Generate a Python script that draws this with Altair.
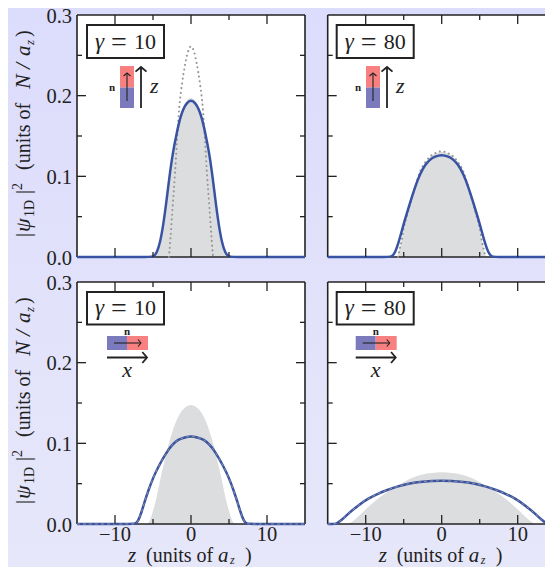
import altair as alt
import pandas as pd

INK = "#222222"
BLUE = "#3953a4"
GREY = "#dcddde"
DOT = "#959595"
RED_M = "#f98080"
BLUE_M = "#7a7abd"
SERIF = "Liberation Serif"

# panel A: gamma 10, n along z
a_fill_z = [-15, -5.4, -4.85, -4.3, -3.9, -3.5, -3.1, -2.7, -2.3, -1.85, -1.4, -1.0, -0.5, 0, 0.5, 1.0, 1.4, 1.85, 2.3, 2.7, 3.1, 3.5, 3.9, 4.3, 4.85, 5.4, 15]
a_fill_v = [0, 0, 0, 0.006, 0.02, 0.042, 0.072, 0.105, 0.133, 0.155, 0.175, 0.187, 0.195, 0.198, 0.195, 0.187, 0.175, 0.155, 0.133, 0.105, 0.072, 0.042, 0.02, 0.006, 0, 0, 0]
a_line_z = [-15, -5.5, -4.96, -4.5, -4.08, -3.64, -3.2, -2.76, -2.32, -1.89, -1.45, -1.0, -0.57, 0, 0.57, 1.0, 1.45, 1.89, 2.32, 2.76, 3.2, 3.64, 4.08, 4.5, 4.96, 5.5, 15]
a_line_v = [0, 0, 0, 0.005, 0.017, 0.04, 0.071, 0.106, 0.133, 0.153, 0.172, 0.184, 0.191, 0.195, 0.191, 0.184, 0.172, 0.153, 0.133, 0.106, 0.071, 0.04, 0.017, 0.005, 0, 0, 0]
a_dot_z = [-2.9, -2.72, -2.41, -2.1, -1.84, -1.54, -1.18, -0.75, -0.35, 0, 0.35, 0.75, 1.18, 1.54, 1.84, 2.1, 2.41, 2.72, 2.9]
a_dot_v = [0, 0.021, 0.063, 0.104, 0.145, 0.186, 0.215, 0.24, 0.256, 0.261, 0.256, 0.24, 0.215, 0.186, 0.145, 0.104, 0.063, 0.021, 0]

# panel B: gamma 80, n along z
b_fill_z = [-15, -6.2, -5.8, -5.5, -5.26, -5.04, -4.6, -4.04, -3.42, -2.85, -2.2, -1.54, -0.88, 0, 0.88, 1.54, 2.2, 2.85, 3.42, 4.04, 4.6, 5.04, 5.26, 5.5, 5.8, 6.2, 15]
b_fill_v = [0, 0, 0, 0.011, 0.021, 0.034, 0.05, 0.069, 0.089, 0.106, 0.117, 0.1245, 0.1285, 0.131, 0.1285, 0.1245, 0.117, 0.106, 0.089, 0.069, 0.05, 0.034, 0.021, 0.011, 0, 0, 0]
b_line_z = [-15, -7.1, -6.6, -6.14, -5.7, -5.26, -4.82, -4.17, -3.5, -2.85, -2.2, -1.54, -0.88, 0, 0.88, 1.54, 2.2, 2.85, 3.5, 4.17, 4.82, 5.26, 5.7, 6.14, 6.6, 7.1, 15]
b_line_v = [0, 0, 0, 0.005, 0.017, 0.032, 0.047, 0.067, 0.087, 0.103, 0.114, 0.121, 0.1245, 0.127, 0.1245, 0.121, 0.114, 0.103, 0.087, 0.067, 0.047, 0.032, 0.017, 0.005, 0, 0, 0]
b_dot_z = [-5.75, -5.5, -5.26, -5.04, -4.6, -4.04, -3.42, -2.85, -2.2, -1.54, -0.88, 0, 0.88, 1.54, 2.2, 2.85, 3.42, 4.04, 4.6, 5.04, 5.26, 5.5, 5.75]
b_dot_v = [0, 0.011, 0.021, 0.034, 0.05, 0.069, 0.089, 0.106, 0.117, 0.1245, 0.1285, 0.131, 0.1285, 0.1245, 0.117, 0.106, 0.089, 0.069, 0.05, 0.034, 0.021, 0.011, 0]

# panel C: gamma 10, n along x
c_fill_z = [-15, -6.0, -5.5, -4.96, -4.5, -4.08, -3.42, -2.76, -2.1, -1.45, -0.8, 0, 0.8, 1.45, 2.1, 2.76, 3.42, 4.08, 4.5, 4.96, 5.5, 6.0, 15]
c_fill_v = [0, 0, 0, 0.017, 0.0335, 0.054, 0.081, 0.106, 0.1246, 0.138, 0.145, 0.149, 0.145, 0.138, 0.1246, 0.106, 0.081, 0.054, 0.0335, 0.017, 0, 0, 0]
c_line_z = [-15, -7.8, -7.3, -6.93, -6.5, -6.05, -5.6, -4.96, -4.3, -3.42, -2.54, -1.67, -0.8, 0, 0.8, 1.67, 2.54, 3.42, 4.3, 4.96, 5.6, 6.05, 6.5, 6.93, 7.3, 7.8, 15]
c_line_v = [0, 0, 0, 0.004, 0.015, 0.029, 0.042, 0.058, 0.071, 0.086, 0.098, 0.105, 0.1075, 0.109, 0.1075, 0.105, 0.098, 0.086, 0.071, 0.058, 0.042, 0.029, 0.015, 0.004, 0, 0, 0]

# panel D: gamma 80, n along x
d_fill_z = [-15, -12.8, -12.1, -11, -9.7, -8.4, -7.06, -5.75, -4.43, -2.68, 0, 2.68, 4.43, 5.75, 7.06, 8.4, 9.7, 11, 12.1, 12.8, 15]
d_fill_v = [0, 0, 0, 0.0087, 0.021, 0.0315, 0.04, 0.0475, 0.0555, 0.0617, 0.0652, 0.0617, 0.0555, 0.0475, 0.04, 0.0315, 0.021, 0.0087, 0, 0, 0]
d_line_z = [-15, -14.4, -13.86, -13.2, -12.3, -11, -9.7, -8.4, -7.06, -5.75, -4.43, -2.68, 0, 2.68, 4.43, 5.75, 7.06, 8.4, 9.7, 11, 12.3, 13.2, 13.86, 14.4, 15]
d_line_v = [0, 0, 0, 0.0046, 0.0128, 0.023, 0.0315, 0.0377, 0.0425, 0.0468, 0.0501, 0.0527, 0.054, 0.0527, 0.0501, 0.0468, 0.0425, 0.0377, 0.0315, 0.023, 0.0128, 0.0046, 0, 0, 0]

x_major = [-10, 0, 10]
x_labels = ["−10", "0", "10"]
x_minor = [-5, 5]
y_major = [0.1, 0.2]
y_minor = [0.05, 0.15, 0.25]
y_tick_labels = [0.0, 0.1, 0.2, 0.3]
x_dom = [-15, 15]
y_dom = [0, 0.3]
W, H = 537, 559


def df(z, v):
    return pd.DataFrame({"z": z, "v": v})


def one():
    return alt.Chart(pd.DataFrame({"k": [0]}))


def label(txt, x, y, size=20, style="normal", weight="normal", angle=0, align="left"):
    return one().mark_text(text=txt, font=SERIF, fontSize=size, fontStyle=style, fontWeight=weight,
                           angle=angle, align=align, baseline="alphabetic", color=INK
                           ).encode(x=alt.value(x), y=alt.value(y))


def box(x0, x1, y0, y1, fill, stroke=None, sw=0):
    kw = dict(fill=fill)
    if stroke:
        kw.update(stroke=stroke, strokeWidth=sw)
    return one().mark_rect(**kw).encode(x=alt.value(x0), x2=alt.value(x1), y=alt.value(y0), y2=alt.value(y1))


def vrule(x, y0, y1, w):
    return one().mark_rule(color=INK, strokeWidth=w).encode(x=alt.value(x), y=alt.value(y0), y2=alt.value(y1))


def hrule(x0, x1, y, w):
    return one().mark_rule(color=INK, strokeWidth=w).encode(x=alt.value(x0), x2=alt.value(x1), y=alt.value(y))


def head(x, y, angle, size, w):
    return one().mark_point(shape="M -1 0.85 L 0 0 L 1 0.85", filled=False, stroke=INK, strokeWidth=w,
                            size=size, angle=angle, opacity=1).encode(x=alt.value(x), y=alt.value(y))


def gamma_box(val, ox, oy, x0, y0, y1):
    by = oy + (y0 + y1) / 2 + 7
    l = ox + x0
    return [
        box(l, l + 77, oy + y0, oy + y1, "white", INK, 2),
        label("γ", l + 8, by, 23, "italic"),
        label("=", l + 24, by + 2, 28),
        label(val, l + 47, by, 22),
    ]


def vert_inset(ox, oy, dx):
    x = ox + dx
    return [
        box(x, x + 14, oy + 51, oy + 72.5, RED_M),
        box(x, x + 14, oy + 72.5, oy + 93, BLUE_M),
        vrule(x + 7, oy + 58, oy + 86, 1.1), head(x + 7, oy + 58, 0, 49, 1.1),
        label("n", x - 11, oy + 75.5, 11, weight="bold"),
        vrule(x + 21, oy + 52, oy + 93, 1.8), head(x + 21, oy + 52, 0, 121, 1.8),
        label("z", x + 30, oy + 78, 22, "italic"),
    ]


def horiz_inset(ox, oy, dx):
    x = ox + dx
    return [
        box(x, x + 20, oy + 54, oy + 68, BLUE_M),
        box(x + 20, x + 41, oy + 54, oy + 68, RED_M),
        hrule(x + 7, x + 34, oy + 61, 1.1), head(x + 34, oy + 61, 90, 49, 1.1),
        label("n", x + 20, oy + 53, 11, weight="bold", align="center"),
        hrule(x, x + 40, oy + 75.5, 1.8), head(x + 40, oy + 75.5, 90, 121, 1.8),
        label("x", x + 20, oy + 95, 22, "italic", align="center"),
    ]


def y_title(ox, oy):
    bx, sub, sup = -47, -43, -55
    rows = [
        ("|", bx, 222, 21, "normal"), ("ψ", bx, 217, 22, "italic"), ("1D", sub, 202, 14, "normal"),
        ("|", bx, 179, 21, "normal"), ("2", sup, 175, 14, "normal"), ("(units of", bx, 155, 20, "normal"),
        ("N", bx, 74, 22, "italic"), ("/", bx, 54, 22, "italic"), ("a", bx, 41, 21, "italic"),
        ("z", sub, 30, 13, "italic"), (")", bx, 22, 20, "normal"),
    ]
    return [label(t, ox + x, oy + y, s, st, angle=270) for t, x, y, s, st in rows]


def x_title(ox, oy):
    by = 280
    rows = [
        ("z", 51, by, 21, "italic"), ("(units of", 69, by, 20, "normal"),
        ("a", 141, by, 21, "italic"), ("z", 153, by + 2, 12, "italic"), (")", 168, by, 20, "normal"),
    ]
    return [label(t, ox + x, oy + y, s, st) for t, x, y, s, st in rows]


def panel(ox, oy, fill, line, dot, overlay, extras, left, bottom):
    sx = alt.Scale(domain=x_dom, range=[ox, ox + 228], nice=False, zero=False)
    sy = alt.Scale(domain=y_dom, range=[oy + 242, oy], nice=False, zero=False)
    X = alt.X("z:Q", scale=sx, title=None, axis=None)
    Y = alt.Y("v:Q", scale=sy, title=None, axis=None, stack=None)

    def seg(values, lo, hi, horizontal, w=1.3):
        rows = pd.DataFrame({"t": values, "a": lo, "b": hi})
        if horizontal:
            enc = dict(x=alt.X("a:Q", scale=sx, axis=None), x2="b:Q", y=alt.Y("t:Q", scale=sy, axis=None))
        else:
            enc = dict(y=alt.Y("a:Q", scale=sy, axis=None), y2="b:Q", x=alt.X("t:Q", scale=sx, axis=None))
        return alt.Chart(rows).mark_rule(color=INK, strokeWidth=w).encode(**enc)

    xl, yl = 9 / 7.6, 9 * 0.3 / 242
    xs, ys = 5 / 7.6, 5 * 0.3 / 242
    layers = [box(ox, ox + 228, oy, oy + 242, "white")]
    layers.append(alt.Chart(df(*fill)).mark_area(color=GREY, interpolate="basis", line=False).encode(x=X, y=Y))
    layers += [seg([0, 0.3], -15, 15, True, 1.6), seg([-15, 15], 0, 0.3, False, 1.6)]
    if dot:
        layers.append(alt.Chart(df(*dot)).mark_line(color=DOT, strokeWidth=2, strokeDash=[0.1, 4.6], strokeCap="round",
                                                    interpolate="monotone").encode(x=X, y=Y))
    layers.append(alt.Chart(df(*line)).mark_line(color=BLUE, strokeWidth=2.5, interpolate="basis").encode(x=X, y=Y))
    if overlay:
        layers.append(alt.Chart(df(*line)).mark_line(color=DOT, strokeWidth=1, strokeDash=[3, 3],
                                                     interpolate="basis").encode(x=X, y=Y))
    layers += [
        seg(x_major, 0, yl, False), seg(x_major, 0.3 - yl, 0.3, False),
        seg(x_minor, 0, ys, False), seg(x_minor, 0.3 - ys, 0.3, False),
        seg(y_major, -15, -15 + xl, True), seg(y_major, 15 - xl, 15, True),
        seg(y_minor, -15, -15 + xs, True), seg(y_minor, 15 - xs, 15, True),
    ]
    layers += extras
    if left:
        rows = pd.DataFrame({"v": y_tick_labels, "s": [f"{t:.1f}" for t in y_tick_labels]})
        layers.append(alt.Chart(rows).mark_text(font=SERIF, fontSize=20.5, color=INK, align="right", baseline="middle", dy=1.5).encode(
            x=alt.value(ox - 5), y=alt.Y("v:Q", scale=sy, axis=None), text="s:N"))
        layers += y_title(ox, oy)
    if bottom:
        rows = pd.DataFrame({"z": x_major, "s": x_labels})
        layers.append(alt.Chart(rows).mark_text(font=SERIF, fontSize=20.5, color=INK, align="center", baseline="alphabetic").encode(
            x=alt.X("z:Q", scale=sx, axis=None), y=alt.value(oy + 259), text="s:N"))
        layers += x_title(ox, oy)
    return layers


LX, RX = 69, 319.7
TY, BY = 7, 274

page = [one().mark_rect(fill=alt.Gradient(gradient="linear", x1=0, y1=0, x2=0, y2=1,
                                          stops=[alt.GradientStop(color="#dcdcfc", offset=0),
                                                 alt.GradientStop(color="#e7e7fa", offset=1)])
                        ).encode(x=alt.value(0), x2=alt.value(W), y=alt.value(0), y2=alt.value(H))]

p1 = panel(LX, TY, (a_fill_z, a_fill_v), (a_line_z, a_line_v), (a_dot_z, a_dot_v), False,
           gamma_box("10", LX, TY, 10, 10, 43) + vert_inset(LX, TY, 43), True, False)
p2 = panel(RX, TY, (b_fill_z, b_fill_v), (b_line_z, b_line_v), (b_dot_z, b_dot_v), False,
           gamma_box("80", RX, TY, 9, 10, 43) + vert_inset(RX, TY, 38.3), False, False)
p3 = panel(LX, BY, (c_fill_z, c_fill_v), (c_line_z, c_line_v), None, True,
           gamma_box("10", LX, BY, 10, 10, 42.5) + horiz_inset(LX, BY, 30), True, True)
p4 = panel(RX, BY, (d_fill_z, d_fill_v), (d_line_z, d_line_v), None, True,
           gamma_box("80", RX, BY, 9, 10, 42.5) + horiz_inset(RX, BY, 28), False, True)

chart = alt.layer(*(page + p1 + p2 + p3 + p4)).resolve_scale(x="independent", y="independent").properties(
    width=W, height=H, background="#e2e2fb", padding=0,
    autosize=alt.AutoSizeParams(type="none", contains="padding"),
).configure_view(stroke=None)

chart.save("out.html", embed_options={"renderer": "svg", "actions": False})
